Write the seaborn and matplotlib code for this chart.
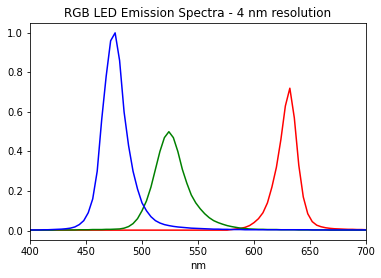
import numpy as np
import pandas as pd
import matplotlib
matplotlib.use('Agg')
import matplotlib.pyplot as plt
import seaborn as sns

wavelengths = np.arange(400, 704, 4)

red = [0.002] * 20 + [0.002] * 25 + [
    0.005, 0.008, 0.011, 0.016, 0.025, 0.04, 0.06, 0.09, 0.14, 0.22,
    0.32, 0.46, 0.63, 0.72, 0.57, 0.33, 0.17, 0.085, 0.045, 0.027,
    0.019, 0.014, 0.011, 0.009, 0.008, 0.007, 0.006, 0.006, 0.005, 0.005, 0.004]

green = [0.002, 0.002, 0.002, 0.002, 0.002, 0.002, 0.003, 0.003, 0.003, 0.003,
         0.003, 0.004, 0.004, 0.004, 0.005, 0.005, 0.005, 0.006, 0.006, 0.007] + [
    0.008, 0.012, 0.02, 0.035, 0.06, 0.10, 0.15, 0.22, 0.31, 0.40,
    0.47, 0.50, 0.47, 0.40, 0.31, 0.24, 0.18, 0.14, 0.11, 0.085,
    0.065, 0.05, 0.04, 0.032, 0.025, 0.02, 0.016, 0.012, 0.010, 0.008, 0.007] + [
    0.006, 0.006, 0.005, 0.005, 0.005, 0.004, 0.004, 0.004, 0.004, 0.003,
    0.003, 0.003, 0.003, 0.003, 0.003, 0.003, 0.002, 0.002, 0.002, 0.002,
    0.002, 0.002, 0.002, 0.002, 0.002]

blue = [0.003, 0.003, 0.003, 0.004, 0.004, 0.005, 0.006, 0.007, 0.009, 0.012,
        0.018, 0.03, 0.05, 0.09, 0.16, 0.30, 0.56, 0.78, 0.96, 1.00,
        0.86, 0.60, 0.43, 0.30, 0.21, 0.14, 0.10, 0.07, 0.05, 0.038,
        0.03, 0.025, 0.021, 0.018, 0.016, 0.014, 0.012, 0.011, 0.010, 0.009,
        0.008, 0.007, 0.007, 0.006, 0.006, 0.005, 0.005, 0.005, 0.004, 0.004,
        0.004] + [0.004] * 12 + [0.003] * 13

channels = ['R', 'G', 'B']
colors = {'R': 'red', 'G': 'green', 'B': 'blue'}

df = pd.concat([
    pd.DataFrame({'nm': wavelengths, 'intensity': vals, 'channel': ch})
    for ch, vals in zip(channels, [red, green, blue])
])

fig = plt.figure(figsize=(381 / 72, 278 / 72), dpi=72)
ax = fig.add_axes([30 / 381, 1 - 240 / 278, 336 / 381, 217 / 278])

sns.lineplot(data=df, x='nm', y='intensity', hue='channel', hue_order=channels,
             palette=colors, legend=False, linewidth=1.5, ax=ax)

ax.set_xlim(400, 700)
ax.set_ylabel('')
ax.set_title('RGB LED Emission Spectra - 4 nm resolution', fontsize=12)

plt.savefig('out.png', dpi=72)
